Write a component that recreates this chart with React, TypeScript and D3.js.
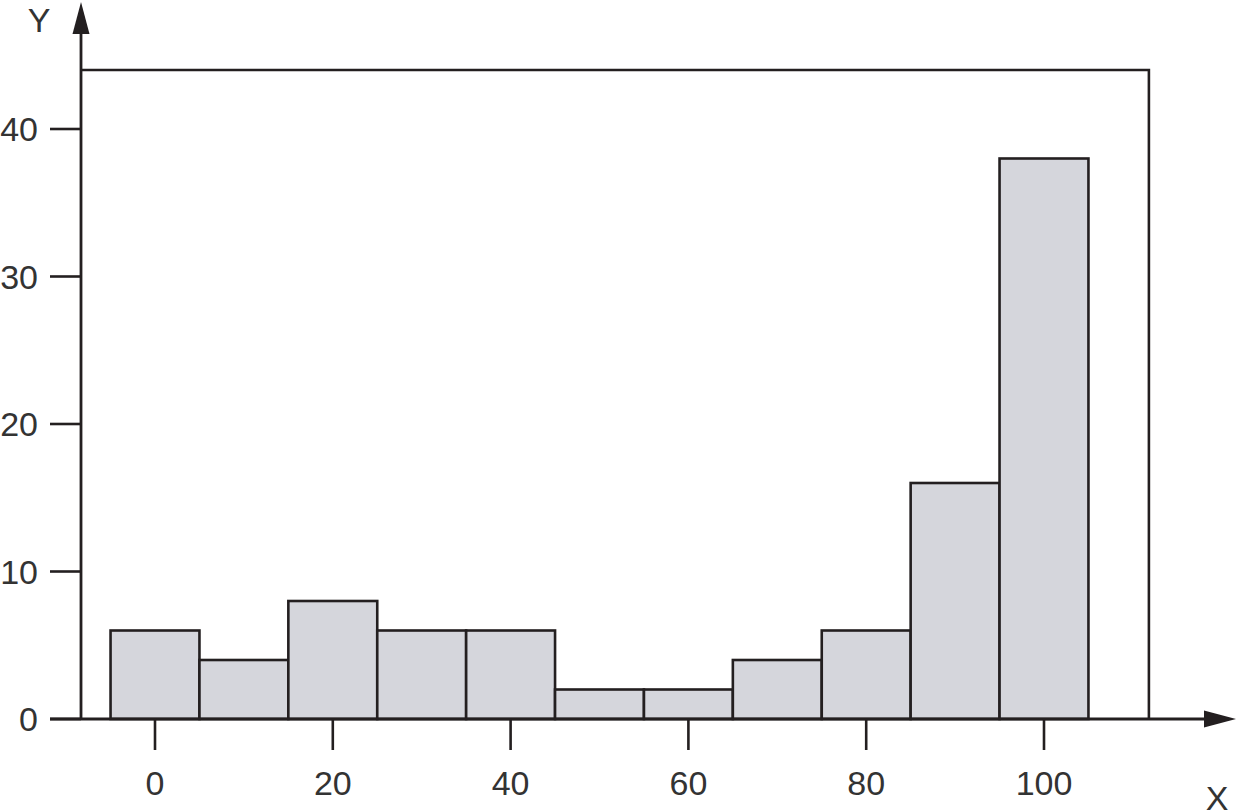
import React from "react";
import * as d3 from "d3";

const binCenters = [0, 10, 20, 30, 40, 50, 60, 70, 80, 90, 100];
const counts = [6, 4, 8, 6, 6, 2, 2, 4, 6, 16, 38];
const xTicks = [0, 20, 40, 60, 80, 100];
const yTicks = [0, 10, 20, 30, 40];
const binWidth = 10;
const frameTop = 44;
const frameRight = 111.8;

const W = 1236;
const H = 811;
const STROKE = "#231f20";
const FILL = "#d5d6dc";
const FONT = "'Liberation Sans', Arial, Helvetica, sans-serif";

export default function App() {
  const x = d3.scaleLinear().domain([0, 100]).range([155, 1044]);
  const y = d3.scaleLinear().domain([0, 40]).range([719, 129]);
  const axisX = 81;
  const y0 = y(0);

  return (
    <svg
      width={W}
      height={H}
      style={{ position: "absolute", left: 0, top: 0, background: "#fff" }}
      fontFamily={FONT}
    >
      {/* frame */}
      <path
        d={`M${axisX},${y(frameTop)} H${x(frameRight)} V${y0}`}
        fill="none"
        stroke={STROKE}
        strokeWidth={2.6}
      />
      {/* bars */}
      {binCenters.map((c, i) => (
        <rect
          key={c}
          x={x(c - binWidth / 2)}
          y={y(counts[i])}
          width={x(c + binWidth / 2) - x(c - binWidth / 2)}
          height={y0 - y(counts[i])}
          fill={FILL}
          stroke={STROKE}
          strokeWidth={2.6}
        />
      ))}
      {/* y axis */}
      <line x1={axisX} x2={axisX} y1={y0} y2={30} stroke={STROKE} strokeWidth={2.8} />
      <path d={`M${axisX},2 L${axisX + 8.5},34 L${axisX - 8.5},34 Z`} fill={STROKE} />
      {/* x axis */}
      <line x1={50} x2={1206} y1={y0} y2={y0} stroke={STROKE} strokeWidth={2.8} />
      <path d={`M1236,${y0} L1204,${y0 - 8.5} L1204,${y0 + 8.5} Z`} fill={STROKE} />
      {/* y ticks */}
      {yTicks.map((t) => (
        <g key={t}>
          <line x1={50} x2={axisX} y1={y(t)} y2={y(t)} stroke={STROKE} strokeWidth={2.6} />
          <text
            x={38}
            y={y(t)}
            dy="0.36em"
            textAnchor="end"
            fontSize={34}
            fill="#333"
          >
            {t}
          </text>
        </g>
      ))}
      {/* x ticks */}
      {xTicks.map((t) => (
        <g key={t}>
          <line x1={x(t)} x2={x(t)} y1={y0} y2={750} stroke={STROKE} strokeWidth={2.6} />
          <text x={x(t)} y={795} textAnchor="middle" fontSize={34} fill="#333">
            {t}
          </text>
        </g>
      ))}
      <text x={39} y={32} textAnchor="middle" fontSize={34} fill="#333">
        Y
      </text>
      <text x={1217} y={810} textAnchor="middle" fontSize={34} fill="#333">
        X
      </text>
    </svg>
  );
}
